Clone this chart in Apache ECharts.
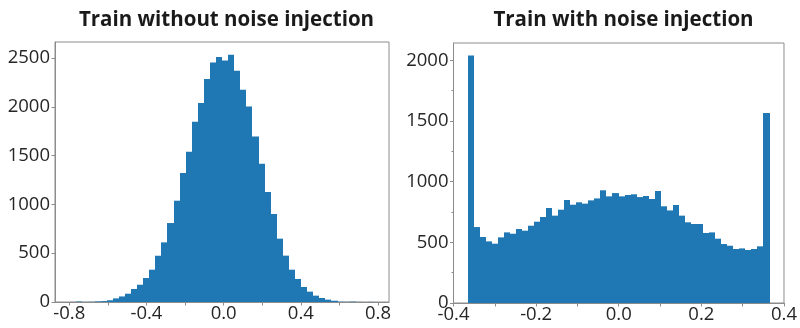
<!DOCTYPE html>
<html>
<head>
<meta charset="utf-8">
<script src="https://cdn.jsdelivr.net/npm/echarts@6/dist/echarts.min.js"></script>
<style>
  html, body { margin: 0; padding: 0; background: #fff; }
  #chart { width: 800px; height: 328px; }
</style>
</head>
<body>
<div id="chart"></div>
<script>
// Histogram of weights trained without noise injection (50 bins)
const plainBinStart = -0.795;
const plainBinWidth = 0.03148;
const plainCounts = [
  1, 5, 1, 2, 6, 9, 18, 37, 57, 85,
  133, 177, 246, 331, 474, 611, 809, 1038, 1322, 1540,
  1847, 2039, 2285, 2455, 2510, 2475, 2534, 2370, 2175, 2004,
  1697, 1417, 1127, 902, 649, 475, 331, 236, 154, 106,
  65, 41, 24, 13, 3, 2, 4, 1, 0, 1
];

// Histogram of weights trained with noise injection (50 bins)
const noisyBinStart = -0.366;
const noisyBinWidth = 0.01462;
const noisyCounts = [
  2041, 626, 544, 508, 489, 541, 582, 571, 610, 596,
  637, 670, 709, 783, 720, 769, 849, 810, 830, 819,
  846, 862, 929, 879, 906, 879, 890, 896, 873, 882,
  857, 923, 797, 763, 808, 720, 665, 651, 651, 577,
  582, 530, 486, 472, 445, 450, 437, 445, 467, 1566
];

// Axis ticks and labels
const plainXTicks = [-0.8, -0.6, -0.4, -0.2, 0.0, 0.2, 0.4, 0.6, 0.8];
const plainXLabels = [-0.8, -0.4, 0.0, 0.4, 0.8];
const plainYLabels = [0, 500, 1000, 1500, 2000, 2500];
const noisyXTicks = [-0.4, -0.3, -0.2, -0.1, 0.0, 0.1, 0.2, 0.3, 0.4];
const noisyXLabels = [-0.4, -0.2, 0.0, 0.2, 0.4];
const noisyYLabels = [0, 500, 1000, 1500, 2000];
const noisyYMinor = [250, 750, 1250, 1750];

const titles = ['Train without noise injection', 'Train with noise injection'];

const BAR = '#1f77b4';
const TEXT = '#262626';
const SPINE = '#8c8c8c';
const FONT = '"Open Sans", "Noto Sans", sans-serif';
const TICK_FONT_SIZE = 18.5;

function histSeries(start, width, counts, axisIdx) {
  const data = counts.map((c, i) => [start + i * width, start + (i + 1) * width, c]);
  return {
    type: 'custom',
    xAxisIndex: axisIdx,
    yAxisIndex: axisIdx,
    data: data,
    encode: { x: [0, 1], y: 2 },
    silent: true,
    renderItem: function (params, api) {
      const p0 = api.coord([api.value(0), 0]);
      const p1 = api.coord([api.value(1), api.value(2)]);
      // snap bin edges to whole pixels so neighbouring bars join without seams
      const x0 = Math.round(p0[0]);
      const x1 = Math.round(p1[0]);
      return {
        type: 'rect',
        shape: { x: x0, y: p1[1], width: x1 - x0, height: p0[1] - p1[1] },
        style: { fill: BAR }
      };
    }
  };
}

function fmtX(v) { return v.toFixed(1); }
function fmtY(v) { return String(v); }

function xAxis(grid, min, max, ticks, labels) {
  return {
    type: 'value', gridIndex: grid, min: min, max: max,
    axisLine: { show: true, onZero: false, lineStyle: { color: SPINE, width: 1 } },
    axisTick: { show: true, length: 3.5, customValues: ticks, lineStyle: { color: SPINE } },
    axisLabel: {
      customValues: labels, formatter: fmtX, margin: 2,
      color: TEXT, fontSize: TICK_FONT_SIZE, fontFamily: FONT
    },
    splitLine: { show: false }
  };
}

function yAxis(grid, max, labels) {
  return {
    type: 'value', gridIndex: grid, min: 0, max: max, position: 'left',
    axisLine: { show: true, onZero: false, lineStyle: { color: SPINE, width: 1 } },
    axisTick: { show: true, length: 3.5, customValues: labels, lineStyle: { color: SPINE } },
    axisLabel: {
      customValues: labels, formatter: fmtY, margin: 5,
      color: TEXT, fontSize: TICK_FONT_SIZE, fontFamily: FONT
    },
    splitLine: { show: false }
  };
}

const chart = echarts.init(document.getElementById('chart'), null, { renderer: 'canvas' });
chart.setOption({
  animation: false,
  backgroundColor: '#fff',
  title: [
    {
      text: titles[0], left: 221.5, top: 5, textAlign: 'center',
      textStyle: { fontSize: 20.5, fontWeight: 'bold', color: '#1a1a1a', fontFamily: FONT }
    },
    {
      text: titles[1], left: 618.5, top: 5, textAlign: 'center',
      textStyle: { fontSize: 20.5, fontWeight: 'bold', color: '#1a1a1a', fontFamily: FONT }
    }
  ],
  grid: [
    { left: 55, top: 42, width: 334, height: 260, show: true, borderColor: SPINE, borderWidth: 1, backgroundColor: 'transparent' },
    { left: 453.5, top: 43, width: 333.5, height: 260, show: true, borderColor: SPINE, borderWidth: 1, backgroundColor: 'transparent' }
  ],
  xAxis: [
    xAxis(0, -0.874, 0.857, plainXTicks, plainXLabels),
    xAxis(1, -0.4, 0.4, noisyXTicks, noisyXLabels)
  ],
  yAxis: [
    yAxis(0, 2664, plainYLabels),
    yAxis(1, 2143, noisyYLabels),
    {
      // short minor ticks on the right panel's count axis
      type: 'value', gridIndex: 1, min: 0, max: 2143, position: 'left',
      axisLine: { show: false, onZero: false },
      axisTick: { show: true, length: 2, customValues: noisyYMinor, lineStyle: { color: SPINE } },
      axisLabel: { show: false },
      splitLine: { show: false }
    }
  ],
  series: [
    histSeries(plainBinStart, plainBinWidth, plainCounts, 0),
    histSeries(noisyBinStart, noisyBinWidth, noisyCounts, 1)
  ]
});
</script>
</body>
</html>
